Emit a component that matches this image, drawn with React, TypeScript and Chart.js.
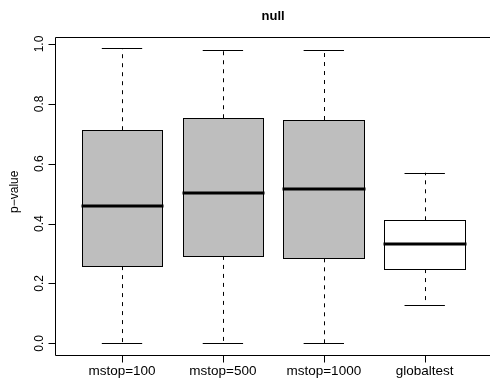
import React, { useEffect, useRef } from "react";
import { Chart, registerables } from "chart.js";

Chart.register(...registerables);

const categories = ["mstop=100", "mstop=500", "mstop=1000", "globaltest"];
const whiskerLow = [0.0, 0.0, 0.0, 0.128];
const q1 = [0.258, 0.292, 0.284, 0.248];
const median = [0.46, 0.501, 0.515, 0.331];
const q3 = [0.712, 0.752, 0.746, 0.411];
const whiskerHigh = [0.986, 0.979, 0.98, 0.57];
const fills = ["#BEBEBE", "#BEBEBE", "#BEBEBE", "#FFFFFF"];
const yTicks = [0, 0.2, 0.4, 0.6, 0.8, 1.0];
const yTickLabels = ["0.0", "0.2", "0.4", "0.6", "0.8", "1.0"];
const title = "null";
const yTitle = "p\u2212value";

const boxPlugin = {
  id: "rbox",
  afterDraw(chart: any) {
    const ctx = chart.ctx as CanvasRenderingContext2D;
    const xs = chart.scales.x;
    const ys = chart.scales.y;
    const area = chart.chartArea;
    const r = (v: number) => Math.round(v) + 0.5;
    ctx.save();
    ctx.lineCap = "butt";
    // boxes
    categories.forEach((_, i) => {
      const cx = xs.getPixelForValue(i + 1);
      const left = xs.getPixelForValue(i + 1 - 0.4);
      const right = xs.getPixelForValue(i + 1 + 0.4);
      const capL = xs.getPixelForValue(i + 1 - 0.2);
      const capR = xs.getPixelForValue(i + 1 + 0.2);
      const yLo = ys.getPixelForValue(whiskerLow[i]);
      const yQ1 = ys.getPixelForValue(q1[i]);
      const yMed = ys.getPixelForValue(median[i]);
      const yQ3 = ys.getPixelForValue(q3[i]);
      const yHi = ys.getPixelForValue(whiskerHigh[i]);
      // whiskers dashed
      ctx.strokeStyle = "#000";
      ctx.lineWidth = 1;
      ctx.setLineDash([4, 5]);
      ctx.beginPath();
      ctx.moveTo(r(cx), yQ3);
      ctx.lineTo(r(cx), yHi);
      ctx.moveTo(r(cx), yQ1);
      ctx.lineTo(r(cx), yLo);
      ctx.stroke();
      ctx.setLineDash([]);
      // caps
      ctx.beginPath();
      ctx.moveTo(capL, r(yHi));
      ctx.lineTo(capR, r(yHi));
      ctx.moveTo(capL, r(yLo));
      ctx.lineTo(capR, r(yLo));
      ctx.stroke();
      // box
      ctx.fillStyle = fills[i];
      const bl = r(left), br = r(right), bt = r(yQ3), bb = r(yQ1);
      ctx.fillRect(bl, bt, br - bl, bb - bt);
      ctx.strokeRect(bl, bt, br - bl, bb - bt);
      // median
      ctx.lineWidth = 3;
      ctx.beginPath();
      ctx.moveTo(bl - 1, Math.round(yMed));
      ctx.lineTo(br + 1, Math.round(yMed));
      ctx.stroke();
      ctx.lineWidth = 1;
    });
    // frame
    ctx.strokeStyle = "#000";
    ctx.lineWidth = 1;
    ctx.beginPath();
    ctx.moveTo(area.right + 2, r(area.top));
    ctx.lineTo(r(area.left), r(area.top));
    ctx.lineTo(r(area.left), r(area.bottom));
    ctx.lineTo(area.right + 2, r(area.bottom));
    ctx.stroke();
    // y ticks
    ctx.fillStyle = "#000";
    ctx.font = "12px 'Liberation Sans', Arial, sans-serif";
    yTicks.forEach((v, i) => {
      const py = ys.getPixelForValue(v);
      ctx.beginPath();
      ctx.moveTo(r(area.left) - 7, r(py));
      ctx.lineTo(r(area.left), r(py));
      ctx.stroke();
      ctx.save();
      ctx.translate(43, py);
      ctx.rotate(-Math.PI / 2);
      ctx.textAlign = "center";
      ctx.textBaseline = "alphabetic";
      ctx.fillText(yTickLabels[i], 0, 0);
      ctx.restore();
    });
    // x ticks
    ctx.font = "13.5px 'Liberation Sans', Arial, sans-serif";
    categories.forEach((c, i) => {
      const px = xs.getPixelForValue(i + 1);
      ctx.beginPath();
      ctx.moveTo(r(px), r(area.bottom));
      ctx.lineTo(r(px), r(area.bottom) + 7);
      ctx.stroke();
      ctx.textAlign = "center";
      ctx.textBaseline = "alphabetic";
      ctx.fillText(c, px, 375);
    });
    // y title
    ctx.save();
    ctx.font = "12px 'Liberation Sans', Arial, sans-serif";
    ctx.translate(18, (area.top + area.bottom) / 2 - 4);
    ctx.rotate(-Math.PI / 2);
    ctx.textAlign = "center";
    ctx.textBaseline = "alphabetic";
    ctx.fillText(yTitle, 0, 0);
    ctx.restore();
    // title
    ctx.font = "bold 13px 'Liberation Sans', Arial, sans-serif";
    ctx.textAlign = "center";
    ctx.textBaseline = "alphabetic";
    ctx.fillText(title, (area.left + xs.getPixelForValue(4.66)) / 2, 20);
    ctx.restore();
  },
};

export default function App() {
  const ref = useRef<HTMLCanvasElement | null>(null);
  useEffect(() => {
    if (!ref.current) return;
    const chart = new Chart(ref.current, {
      type: "scatter",
      data: { datasets: [{ data: [], pointRadius: 0 }] },
      options: {
        animation: false,
        responsive: false,
        devicePixelRatio: 1,
        events: [],
        layout: { padding: { left: 55, top: 36.5, right: 0, bottom: 32 } },
        plugins: { legend: { display: false }, tooltip: { enabled: false }, title: { display: false } },
        scales: {
          x: { type: "linear", display: false, min: 0.336, max: 4.647 },
          y: { type: "linear", display: false, min: -0.0391, max: 1.0251 },
        },
      },
      plugins: [boxPlugin],
    });
    return () => chart.destroy();
  }, []);
  return (
    <div style={{ position: "fixed", left: 0, top: 0, width: 490, height: 387, background: "#fff" }}>
      <canvas ref={ref} width={490} height={387} style={{ width: 490, height: 387, display: "block" }} />
    </div>
  );
}
